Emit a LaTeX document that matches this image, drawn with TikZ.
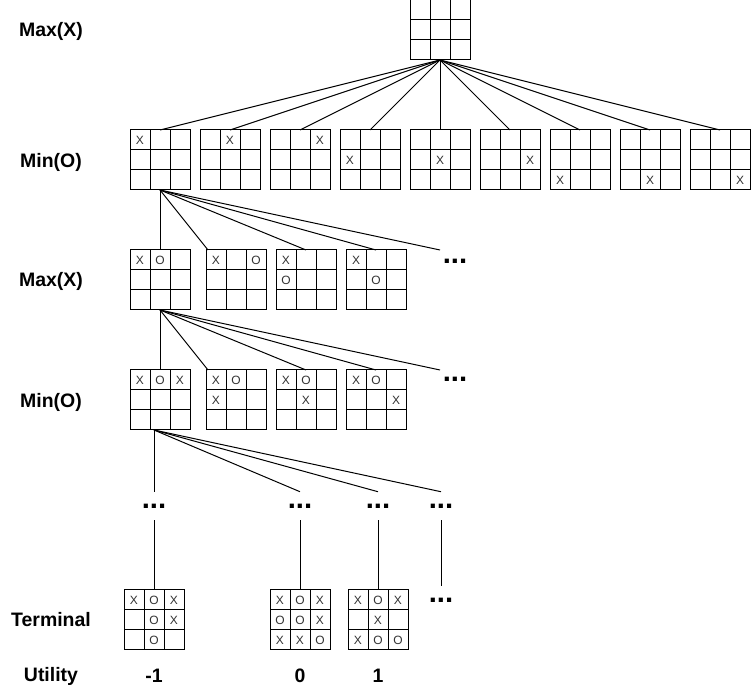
\documentclass[tikz,border=0pt]{standalone}
\usepackage{fontspec}
\setmainfont{Liberation Sans}
\usetikzlibrary{calc,positioning}

\tikzstyle{board} = [draw, line width=0.75pt, minimum size=45pt, inner sep=0pt, outer sep=0pt]
\tikzstyle{glyph} = [font=\fontsize{9}{10}\selectfont, text=black!80, inner sep=0pt]
\tikzstyle{lvl} = [font=\fontsize{14.6}{17}\selectfont\bfseries]
\tikzstyle{more} = [font=\fontsize{22}{24}\selectfont\bfseries, minimum height=21pt, inner sep=0pt]
\tikzstyle{link} = [line width=0.75pt]

% a 3x3 board: name, placement, marks as row/col/symbol
\newcommand{\board}[3]{%
  \node[board, #2] (#1) {};
  \foreach \k in {1,2} {
    \draw[link] ($(#1.north west)!{\k/3}!(#1.north east)$) -- ($(#1.south west)!{\k/3}!(#1.south east)$);
    \draw[link] ($(#1.north west)!{\k/3}!(#1.south west)$) -- ($(#1.north east)!{\k/3}!(#1.south east)$);
  }
  \if\relax\detokenize{#3}\relax\else
  \foreach \row/\col/\sym in {#3} {
    \node[glyph] at ($(#1.north west)+(\col*20-10,\row*20-10)$) {\sym};
  }\fi
}

\begin{document}
\begin{tikzpicture}[
  x=0.75pt, y=-0.75pt,
  node distance=52.5pt, % spacing of the first row of boards
]
  \useasboundingbox (0,0) rectangle (751,691);

  \node[lvl] (l0) at (51,31)  {Max(X)};
  \node[lvl] (l1) at (51,162) {Min(O)};
  \node[lvl] (l2) at (51,281) {Max(X)};
  \node[lvl] (l3) at (51,402) {Min(O)};
  \node[lvl] (l4) at (51,620) {Terminal};
  \node[lvl] (l5) at (51,676) {Utility};

  \board{00}{at={(440,30)}}{}

  \board{10}{at={(160,160)}}{1/1/X}
  \board{11}{right of=10}{1/2/X}
  \board{12}{right of=11}{1/3/X}
  \board{13}{right of=12}{2/1/X}
  \board{14}{right of=13}{2/2/X}
  \board{15}{right of=14}{2/3/X}
  \board{16}{right of=15}{3/1/X}
  \board{17}{right of=16}{3/2/X}
  \board{18}{right of=17}{3/3/X}
  \foreach \n in {10,...,18}
    \draw[link] (00.south) -- (\n.north);

  \board{20}{at={(160,280)}}{1/1/X,1/2/O}
  \board{21}{at={(236,280)}}{1/1/X,1/3/O}
  \board{22}{right of=21}{1/1/X,2/1/O}
  \board{23}{right of=22}{1/1/X,2/2/O}
  \node[more] (24) at (455,261) {...};
  \coordinate (24in) at (440,250);

  \draw[link] (10.south) -- (20.north);
  \draw[link] (10.south) -- ([xshift=1.5pt]21.north west);
  \draw[link] (10.south) -- (22.north);
  \draw[link] (10.south) -- (23.north);
  \draw[link] (10.south) -- (24in);

  \board{30}{at={(160,400)}}{1/1/X,1/2/O,1/3/X}
  \board{31}{at={(236,400)}}{1/1/X,1/2/O,2/1/X}
  \board{32}{right of=31}{1/1/X,1/2/O,2/2/X}
  \board{33}{right of=32}{1/1/X,1/2/O,2/3/X}
  \node[more] (34) at (455,379) {...};
  \coordinate (34in) at (440,370);

  \draw[link] (20.south) -- (30.north);
  \draw[link] (20.south) -- ([xshift=1.5pt]31.north west);
  \draw[link] (20.south) -- (32.north);
  \draw[link] (20.south) -- (33.north);
  \draw[link] (20.south) -- (34in);

  \node[more] (40) at (154,506) {...};
  \node[more] (41) at (300,506) {...};
  \node[more] (42) at (378,506) {...};
  \node[more] (43) at (441,506) {...};
  \foreach \n in {40,...,43}
    \draw[link] ([xshift=-4.5pt]30.south) -- (\n.north);

  \board{50}{at={(154,620)}}{1/1/X,1/2/O,1/3/X,2/2/O,2/3/X,3/2/O}
  \board{51}{at={(300,620)}}{1/1/X,1/2/O,1/3/X,2/1/O,2/2/O,2/3/X,3/1/X,3/2/X,3/3/O}
  \board{52}{at={(378,620)}}{1/1/X,1/2/O,1/3/X,2/2/X,3/1/X,3/2/O,3/3/O}
  \node[more] (53) at (441,600) {...};

  \draw[link] (40.south) -- (50.north);
  \draw[link] (41.south) -- (51.north);
  \draw[link] (42.south) -- (52.north);
  \draw[link] (43.south) -- (53.north);

  \node[lvl] (60) at (154,676) {-1};
  \node[lvl] (61) at (300,676) {0};
  \node[lvl] (62) at (378,676) {1};
\end{tikzpicture}
\end{document}
